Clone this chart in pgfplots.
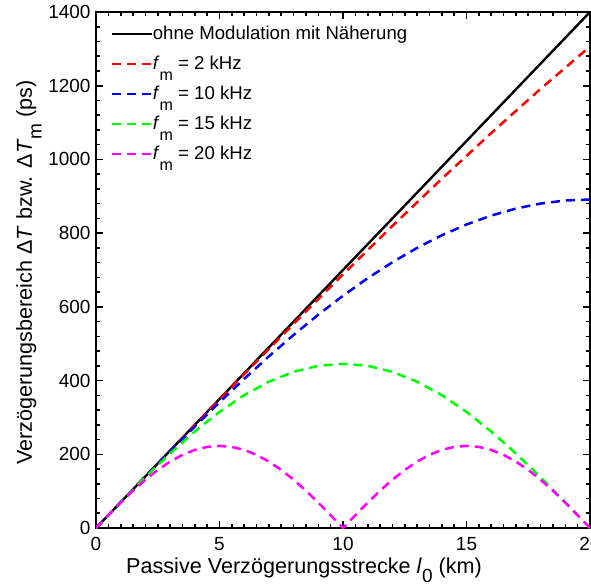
\documentclass[border=0pt]{standalone}
\usepackage{fontspec}
\setmainfont{Liberation Sans}
\usepackage{pgfplots}
\pgfplotsset{compat=1.18}
\definecolor{mymag}{RGB}{255,0,255}
\definecolor{mygreen}{RGB}{0,255,0}
\definecolor{myblue}{RGB}{0,0,255}
\definecolor{myred}{RGB}{255,0,0}
\newcommand{\lsub}[1]{\raisebox{-0.6em}{\fontsize{8}{8}\selectfont #1}}
\newcommand{\asub}[1]{\raisebox{-0.45em}{\fontsize{9.5}{9.5}\selectfont #1}}
\pgfplotstableread{
x y
0 0
2 139.9
4 279.2
6 417.4
8 553.9
10 688.1
12 819.5
14 947.5
16 1071.7
18 1191.5
20 1306.4
}\redtab
\pgfplotstableread{
x y
0 0
1 69.9
2 139.4
3 208.1
4 275.4
5 341.1
6 404.6
7 465.7
8 523.9
9 578.9
10 630.2
11 677.8
12 721.1
13 760.0
14 794.2
15 823.5
16 847.7
17 866.7
18 880.3
19 888.6
20 891.3
}\bluetab
\pgfplotstableread{
x y
0 0
1 69.7
2 137.7
3 202.3
4 261.9
5 315.1
6 360.5
7 397.0
8 423.8
9 440.1
10 445.6
11 440.1
12 423.8
13 397.0
14 360.5
15 315.1
16 261.9
17 202.3
18 137.7
19 69.7
20 0
}\greentab
\pgfplotstableread{
x y
0 0
0.5 34.8
1 68.8
1.5 101.2
2 131.0
2.5 157.5
3 180.2
3.5 198.5
4 211.9
4.5 220.1
5 222.8
5.5 220.1
6 211.9
6.5 198.5
7 180.2
7.5 157.5
8 131.0
8.5 101.2
9 68.8
9.5 34.8
10 0
10.5 34.8
11 68.8
11.5 101.2
12 131.0
12.5 157.5
13 180.2
13.5 198.5
14 211.9
14.5 220.1
15 222.8
15.5 220.1
16 211.9
16.5 198.5
17 180.2
17.5 157.5
18 131.0
18.5 101.2
19 68.8
19.5 34.8
20 0
}\magtab
\begin{document}
\begin{tikzpicture}
\begin{axis}[
  scale only axis, width=247pt, height=258pt,
  xmin=0, xmax=20, ymin=0, ymax=1400,
  xtick={0,5,10,15,20}, ytick={0,200,...,1400},
  minor x tick num=9, minor y tick num=4,
  tick align=inside, major tick length=3.5pt, minor tick length=2pt,
  axis line style={line width=0.9pt},
  every tick/.style={black, line width=0.8pt},
  tick label style={font=\fontsize{9.5}{11}\selectfont},
  xticklabel style={yshift=-1.0pt},
  yticklabel style={xshift=0.8pt},
  /pgf/number format/assume math mode=true,
  /pgf/number format/1000 sep={},
  xlabel={Passive Verzögerungsstrecke \textit{l}\asub{0} (km)},
  ylabel={Verzögerungsbereich Δ\textit{T} bzw. Δ\textit{T}\asub{m} (ps)},
  xlabel style={at={(axis description cs:0.421,-0.0872)}, anchor=base, font=\fontsize{10.8}{13}\selectfont, inner sep=0pt},
  ylabel style={at={(axis description cs:-0.1296,0.495)}, anchor=base, rotate=0, font=\fontsize{10.8}{13}\selectfont, inner sep=0pt},
  legend cell align=left,
  legend image code/.code={\draw[#1] (0pt,2.6pt) -- (20pt,2.6pt);},
  legend style={draw=none, fill=none, at={(axis description cs:0.0283,0.977)}, anchor=north west,
    inner sep=0pt, font=\fontsize{9.3}{11}\selectfont,
    nodes={inner sep=0pt, text height=7.5pt, text depth=7.5pt},
    /tikz/every even column/.append style={column sep=2.5pt}},
  every axis plot/.append style={line width=1.25pt},
]
\addplot[black, line width=1.2pt] coordinates {(0,0) (20,1400)};
\addlegendentry{ohne Modulation mit Näherung}
\addplot[myred, dash pattern=on 4.5pt off 3pt] table {\redtab};
\addlegendentry{\textit{f}\lsub{m} = 2 kHz}
\addplot[myblue, dash pattern=on 4.5pt off 3pt] table {\bluetab};
\addlegendentry{\textit{f}\lsub{m} = 10 kHz}
\addplot[mygreen, dash pattern=on 4.5pt off 3pt] table {\greentab};
\addlegendentry{\textit{f}\lsub{m} = 15 kHz}
\addplot[mymag, dash pattern=on 4.5pt off 3pt] table {\magtab};
\addlegendentry{\textit{f}\lsub{m} = 20 kHz}
\end{axis}
\pgfresetboundingbox
\path ([shift={(-48pt,-28.5pt)}]current axis.south west) rectangle ([shift={(0.5pt,6pt)}]current axis.north east);
\end{tikzpicture}
\end{document}
